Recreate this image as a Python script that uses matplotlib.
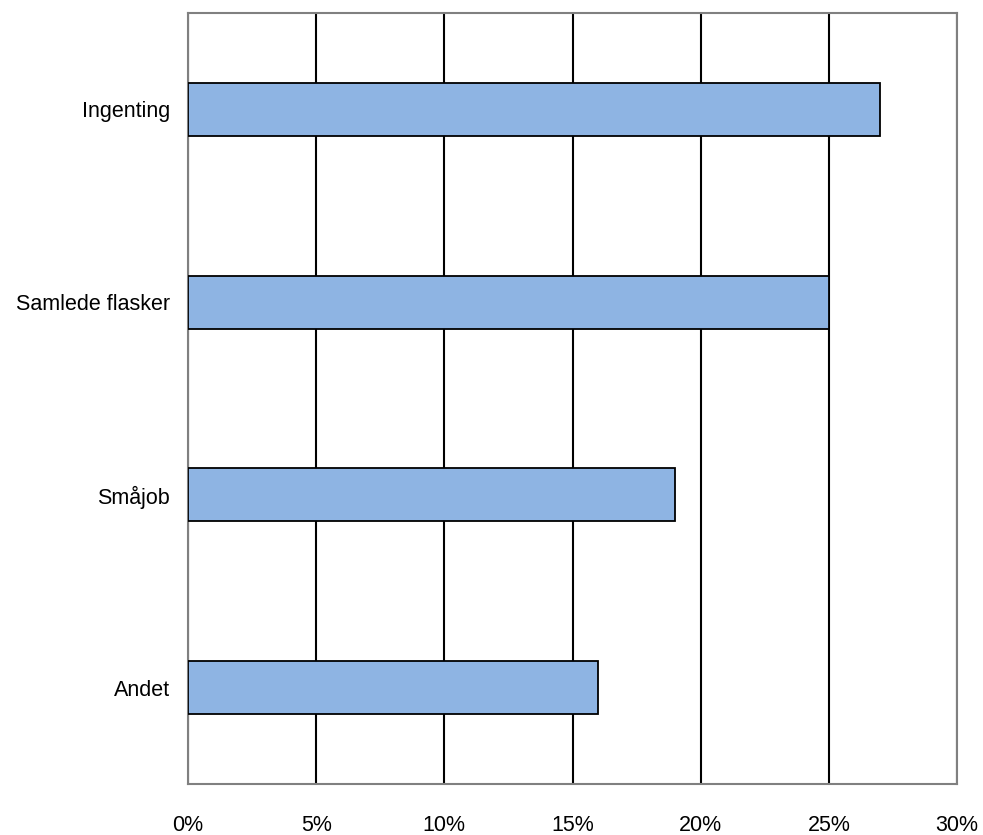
import matplotlib
matplotlib.use("Agg")
import matplotlib.pyplot as plt
from matplotlib.ticker import FuncFormatter

categories = ["Ingenting", "Samlede flasker", "Småjob", "Andet"]
values = [27, 25, 19, 16]
xticks = [0, 5, 10, 15, 20, 25, 30]

plt.rcParams['font.family'] = ['Liberation Sans', 'DejaVu Sans']

fig = plt.figure(figsize=(9.83, 8.35), dpi=100)
ax = fig.add_axes([188/983, 1-784/835, (957-188)/983, (784-13)/835])

ypos = list(range(len(categories)))
ax.barh(ypos, values, height=0.275, color="#8EB4E3", edgecolor="black", linewidth=1.3, zorder=3)
ax.set_yticks(ypos)
ax.set_yticklabels(categories)
ax.set_ylim(len(categories)-0.5, -0.5)
ax.set_xlim(0, 30)
ax.set_xticks(xticks)
ax.xaxis.set_major_formatter(FuncFormatter(lambda v, p: f"{int(v)}%"))
ax.grid(axis='x', color='black', linewidth=1.5, zorder=1)
ax.set_axisbelow(True)
for s in ax.spines.values():
    s.set_color('#808080')
    s.set_linewidth(1.5)
ax.tick_params(axis='both', length=0, labelsize=15.5)
ax.tick_params(axis='x', pad=22)
ax.tick_params(axis='y', pad=13)

fig.savefig("out.png", dpi=100)
